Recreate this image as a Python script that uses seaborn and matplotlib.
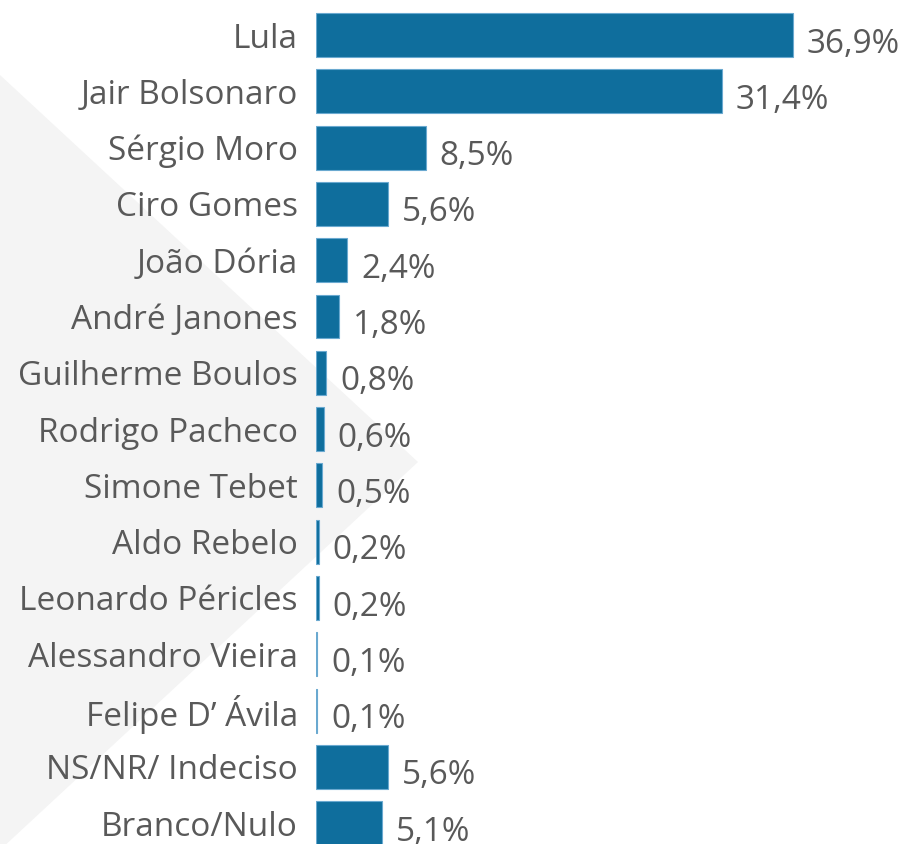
import matplotlib
matplotlib.use("Agg")
import matplotlib.pyplot as plt
import seaborn as sns
import pandas as pd
from matplotlib.patches import Polygon

candidates = ["Lula", "Jair Bolsonaro", "Sérgio Moro", "Ciro Gomes", "João Dória",
              "André Janones", "Guilherme Boulos", "Rodrigo Pacheco", "Simone Tebet",
              "Aldo Rebelo", "Leonardo Péricles", "Alessandro Vieira", "Felipe D’ Ávila",
              "NS/NR/ Indeciso", "Branco/Nulo"]
values = [36.9, 31.4, 8.5, 5.6, 2.4, 1.8, 0.8, 0.6, 0.5, 0.2, 0.2, 0.1, 0.1, 5.6, 5.1]
value_labels = ["36,9%", "31,4%", "8,5%", "5,6%", "2,4%", "1,8%", "0,8%", "0,6%", "0,5%",
                "0,2%", "0,2%", "0,1%", "0,1%", "5,6%", "5,1%"]

df = pd.DataFrame({"candidate": candidates, "value": values})

sns.set_theme(style="white")
plt.rcParams["font.family"] = ["Open Sans", "DejaVu Sans"]

W, H = 913, 844
fig = plt.figure(figsize=(W / 100, H / 100), dpi=100)
fig.patch.set_facecolor("white")

# light grey background triangle
bg = fig.add_axes([0, 0, 1, 1], zorder=0)
bg.set_xlim(0, W)
bg.set_ylim(H, 0)
bg.axis("off")
bg.add_patch(Polygon([(0, 75), (418, 462), (0, 850)], closed=True,
                     facecolor="#f4f4f4", edgecolor="none"))

left = 316 / W
ax = fig.add_axes([left, 0, 1 - left, 1], zorder=1)
ax.patch.set_alpha(0)

bar_color = "#0f6e9d"
sns.barplot(data=df, x="value", y="candidate", orient="h", color=bar_color,
            width=0.78, edgecolor="#6aa9d0", linewidth=0.8, saturation=1, ax=ax)

pitch = 56.3
ax.set_ylim((H - 35) / pitch, -35 / pitch)
scale = 477 / 36.9
ax.set_xlim(0, (W - 316) / scale)

for i, (v, lab) in enumerate(zip(values, value_labels)):
    ax.annotate(lab, xy=(v, i), xytext=(10, -6.5), textcoords="offset points",
                ha="left", va="center", fontsize=24, color="#595959")

ax.set_xlabel("")
ax.set_ylabel("")
ax.set_xticks([])
ax.tick_params(axis="y", length=0, pad=13, labelsize=24, labelcolor="#595959")
for s in ax.spines.values():
    s.set_visible(False)

fig.savefig("out.png", dpi=100)
